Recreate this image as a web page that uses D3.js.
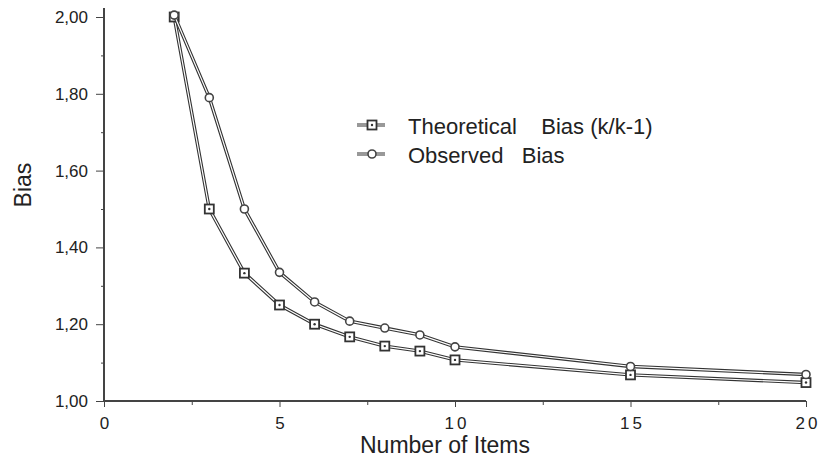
<!DOCTYPE html>
<html>
<head>
<meta charset="utf-8">
<script src="https://cdn.jsdelivr.net/npm/d3@7"></script>
<style>
  body { margin: 0; background: #fff; }
  svg { font-family: "Liberation Sans", Arial, sans-serif; }
  .axis path, .axis line { stroke: #444; }
  .axis text { fill: #222; font-size: 17px; }
</style>
</head>
<body>
<svg id="chart"></svg>
<script>
  var items = [2, 3, 4, 5, 6, 7, 8, 9, 10, 15, 20];
  var theoretical = [2.00, 1.50, 1.333, 1.25, 1.20, 1.167, 1.143, 1.13, 1.107, 1.068, 1.048];
  var observed = [2.005, 1.79, 1.50, 1.335, 1.258, 1.208, 1.19, 1.172, 1.141, 1.09, 1.069];
  var xTicks = [0, 5, 10, 15, 20];
  var yTicks = [1.00, 1.20, 1.40, 1.60, 1.80, 2.00];
  var seriesNames = ["Theoretical    Bias (k/k-1)", "Observed   Bias"];

  var width = 819;
  var height = 459;
  var margin = {top: 17, left: 104, right: 13, bottom: 58};

  var svg = d3.select("#chart")
      .attr("width", width)
      .attr("height", height);

  var x = d3.scaleLinear()
      .domain([0, 20])
      .range([margin.left, width - margin.right]);

  var y = d3.scaleLinear()
      .domain([1, 2])
      .range([height - margin.bottom, margin.top]);

  var comma = d3.formatLocale({decimal: ",", thousands: ".", grouping: [3], currency: ["", ""]});

  // minor ticks first, majors on top
  svg.append("g")
      .attr("class", "axis")
      .attr("transform", `translate(${margin.left},0)`)
      .call(d3.axisLeft(y).tickValues([1.1, 1.3, 1.5, 1.7, 1.9]).tickSize(3).tickFormat(""))
      .call(g => g.select(".domain").remove());

  svg.append("g")
      .attr("class", "axis")
      .attr("transform", `translate(0,${y(1)})`)
      .call(d3.axisBottom(x).tickValues([2.5, 7.5, 12.5, 17.5]).tickSize(4).tickFormat(""))
      .call(g => g.select(".domain").remove());

  var yAxis = svg.append("g")
      .attr("class", "axis")
      .attr("transform", `translate(${margin.left},0)`)
      .call(d3.axisLeft(y).tickValues(yTicks).tickSize(8).tickPadding(8).tickFormat(comma.format(".2f")));
  yAxis.select(".domain").attr("d", `M0,8V${y(1)}`).attr("stroke-width", 2);

  var xAxis = svg.append("g")
      .attr("class", "axis")
      .attr("transform", `translate(0,${y(1)})`)
      .call(d3.axisBottom(x).tickValues(xTicks).tickSize(6).tickPadding(10).tickFormat(d3.format("d")));
  xAxis.select(".domain").attr("d", `M${x(0)},0H${x(20)}`).attr("stroke-width", 2);
  xAxis.selectAll("text").attr("letter-spacing", "3px").attr("dx", "1.5px");

  // axis titles
  svg.append("text")
      .attr("x", 445)
      .attr("y", 453)
      .attr("text-anchor", "middle")
      .attr("font-size", 23)
      .attr("fill", "#222")
      .text("Number of Items");

  svg.append("text")
      .attr("transform", "translate(31,185) rotate(-90)")
      .attr("text-anchor", "middle")
      .attr("font-size", 23)
      .attr("fill", "#222")
      .text("Bias");

  var line = d3.line()
      .x(function(d, i) { return x(items[i]); })
      .y(function(d) { return y(d); });

  function drawSeries(values, shape) {
      svg.append("path")
          .datum(values)
          .attr("d", line)
          .attr("fill", "none")
          .attr("stroke", "#333")
          .attr("stroke-width", 3.4);
      svg.append("path")
          .datum(values)
          .attr("d", line)
          .attr("fill", "none")
          .attr("stroke", "#fff")
          .attr("stroke-width", 1.2);
      drawMarkers(values.map(function(v, i) { return [x(items[i]), y(v)]; }), shape);
  }

  function drawMarkers(pts, shape) {
      var g = svg.append("g");
      if (shape === "square") {
          g.selectAll("rect").data(pts).enter().append("rect")
              .attr("x", function(d) { return d[0] - 4.5; })
              .attr("y", function(d) { return d[1] - 4.5; })
              .attr("width", 9)
              .attr("height", 9)
              .attr("fill", "#fff")
              .attr("stroke", "#333")
              .attr("stroke-width", 1.8);
          g.selectAll("circle").data(pts).enter().append("circle")
              .attr("cx", function(d) { return d[0]; })
              .attr("cy", function(d) { return d[1]; })
              .attr("r", 1.2)
              .attr("fill", "#333");
      } else {
          g.selectAll("circle").data(pts).enter().append("circle")
              .attr("cx", function(d) { return d[0]; })
              .attr("cy", function(d) { return d[1]; })
              .attr("r", 4)
              .attr("fill", "#fff")
              .attr("stroke", "#444")
              .attr("stroke-width", 1.6);
      }
  }

  drawSeries(theoretical, "square");
  drawSeries(observed, "circle");

  // legend
  var legendY = [125, 154];
  ["square", "circle"].forEach(function(shape, i) {
      svg.append("line")
          .attr("x1", 357).attr("x2", 385)
          .attr("y1", legendY[i]).attr("y2", legendY[i])
          .attr("stroke", "#333")
          .attr("stroke-width", 3);
      svg.append("line")
          .attr("x1", 357).attr("x2", 385)
          .attr("y1", legendY[i]).attr("y2", legendY[i])
          .attr("stroke", "#fff")
          .attr("stroke-width", 1);
      drawMarkers([[372, legendY[i]]], shape);
      svg.append("text")
          .attr("x", 408)
          .attr("y", legendY[i] + 9)
          .attr("font-size", 22)
          .attr("fill", "#222")
          .style("white-space", "pre")
          .text(seriesNames[i]);
  });
</script>
</body>
</html>
